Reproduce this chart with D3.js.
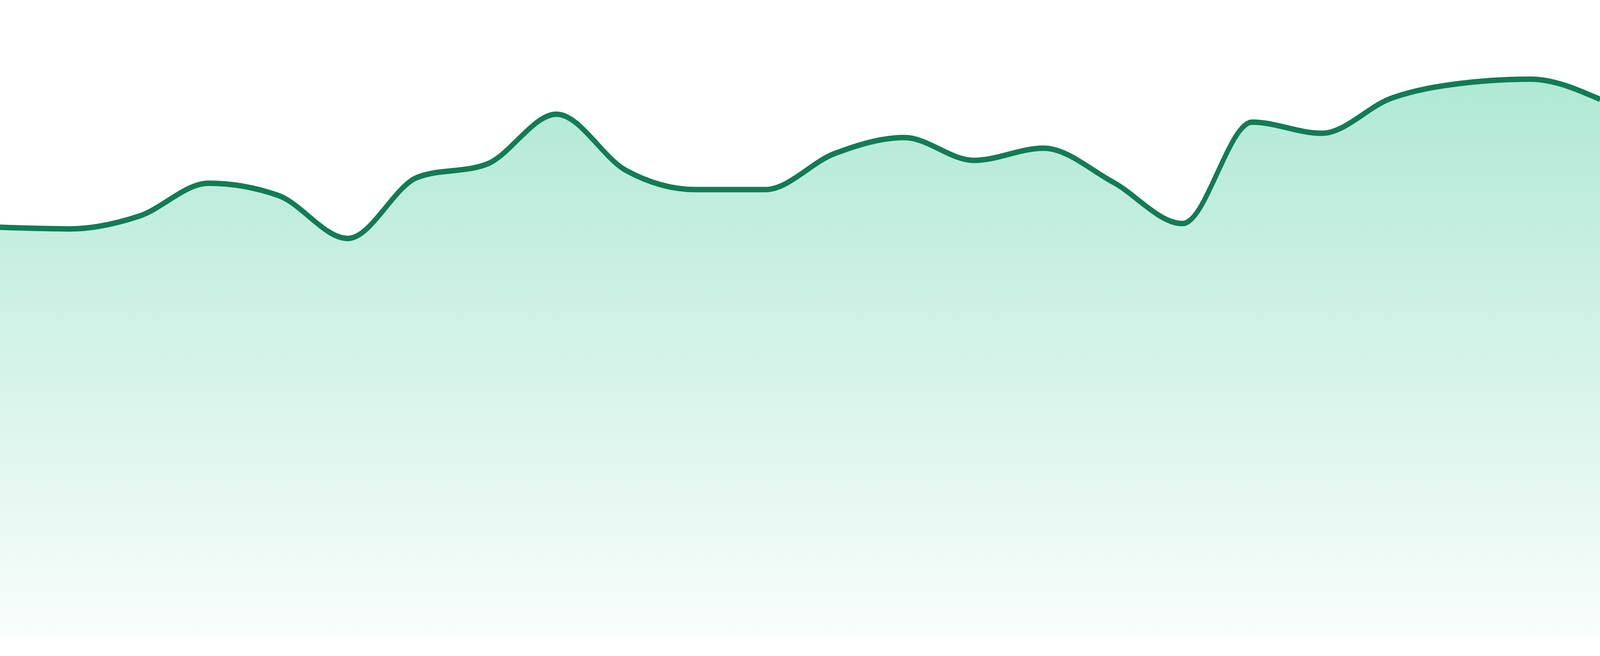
<!DOCTYPE html>
<html>
<head>
<meta charset="utf-8">
<script src="https://cdn.jsdelivr.net/npm/d3@7"></script>
<style>
  html, body { margin: 0; padding: 0; background: #fff; width: 100%; height: 100%; overflow: hidden; }
  .chart { width: 100vw; height: 100vh; }
  svg { display: block; }
</style>
</head>
<body>
<div class="chart"></div>
<script>
// 24 evenly spaced samples
const points = d3.range(24);
const values = [77.2, 76.9, 79.3, 85.5, 83.2, 75.1, 86.6, 89.1, 98.5, 87.9, 84.3, 84.3,
                91.1, 94.1, 89.8, 92.1, 85.7, 77.9, 97.0, 94.9, 101.5, 104.3, 105.1, 101.3];
const yDomain = [0, 120];

// drawing space; the svg is stretched over the whole window
const width = 4800;
const height = 1680;
const margin = {top: 0, right: 0, bottom: 48, left: 0};

const data = points.map((p, i) => ({x: p, y: values[i]}));

const xScale = d3.scaleLinear()
    .domain(d3.extent(points))
    .range([margin.left, width - margin.right]);

const yScale = d3.scaleLinear()
    .domain(yDomain)
    .range([height - margin.bottom, margin.top]);

const svg = d3.select('.chart').append('svg')
    .attr('width', '100%')
    .attr('height', '100%')
    .attr('viewBox', '0 0 ' + width + ' ' + height)
    .attr('preserveAspectRatio', 'none');

// fill fades out toward the baseline
const grad = svg.append('defs').append('linearGradient')
    .attr('id', 'fade')
    .attr('gradientUnits', 'userSpaceOnUse')
    .attr('x1', 0).attr('x2', 0)
    .attr('y1', yScale(d3.max(values)))
    .attr('y2', yScale(0));
grad.append('stop').attr('offset', '0%').attr('stop-color', '#10b981').attr('stop-opacity', 0.33);
grad.append('stop').attr('offset', '100%').attr('stop-color', '#10b981').attr('stop-opacity', 0.025);

const area = d3.area()
    .x(d => xScale(d.x))
    .y0(yScale(0))
    .y1(d => yScale(d.y))
    .curve(d3.curveMonotoneX);

const line = d3.line()
    .x(d => xScale(d.x))
    .y(d => yScale(d.y))
    .curve(d3.curveMonotoneX);

svg.append('path')
    .datum(data)
    .attr('fill', 'url(#fade)')
    .attr('d', area);

svg.append('path')
    .datum(data)
    .attr('fill', 'none')
    .attr('stroke', '#127c54')
    .attr('stroke-width', 14)
    .attr('stroke-linejoin', 'round')
    .attr('d', line);
</script>
</body>
</html>
